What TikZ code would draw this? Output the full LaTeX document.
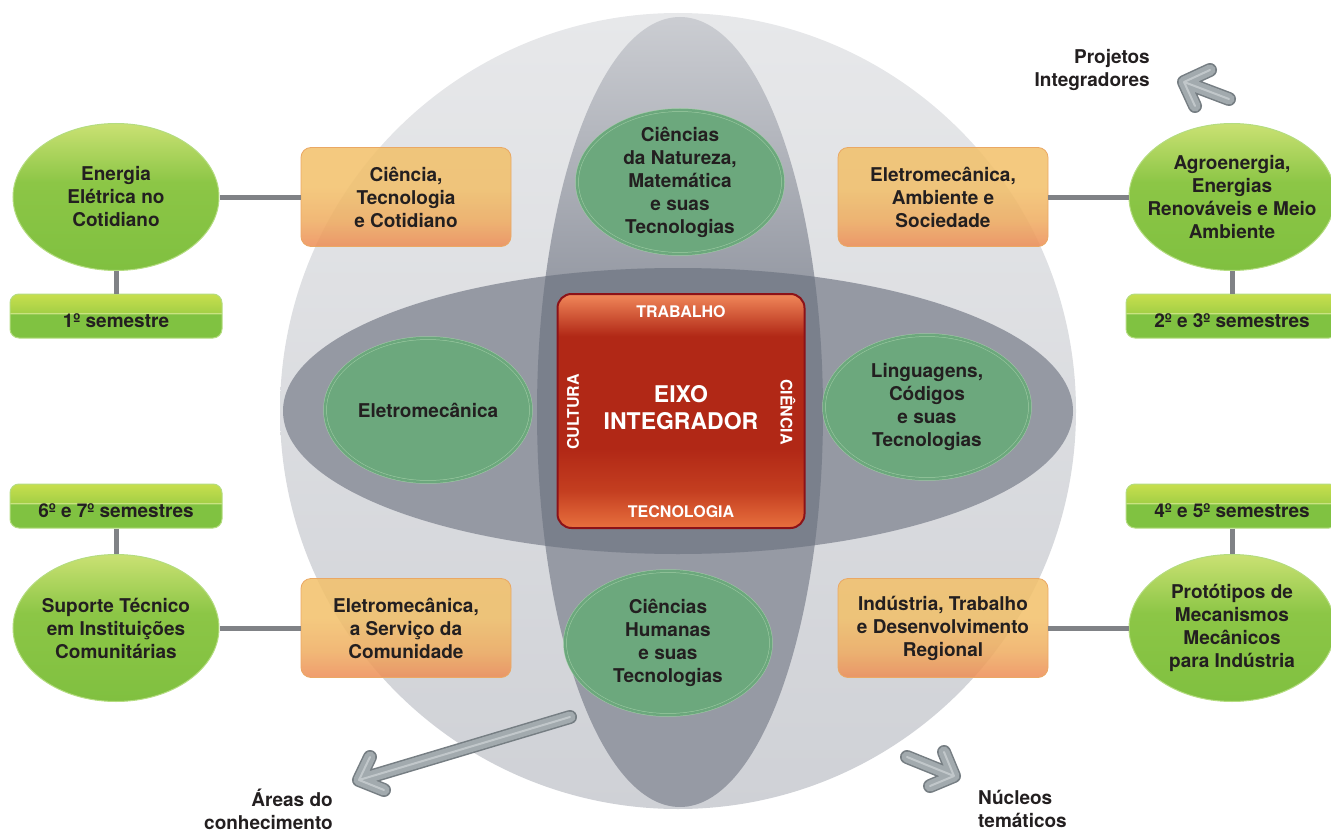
\documentclass[tikz,border=0pt]{standalone}
\usepackage{fontspec}
\setmainfont{TeX Gyre Heros}
\usetikzlibrary{shapes.geometric}

\definecolor{ink}{RGB}{35,31,32}
\definecolor{sphereTop}{RGB}{231,232,234}
\definecolor{sphereBot}{RGB}{207,209,214}
\definecolor{bandV}{RGB}{150,154,164}
\definecolor{bandVtop}{RGB}{203,205,210}
\definecolor{bandH}{RGB}{149,153,163}
\definecolor{bandX}{RGB}{122,128,140}
\definecolor{leafTop}{RGB}{202,225,115}
\definecolor{leafMid}{RGB}{140,198,70}
\definecolor{leafBot}{RGB}{128,192,64}
\definecolor{leafLine}{RGB}{180,220,128}
\definecolor{areaFill}{RGB}{108,168,125}
\definecolor{areaLine}{RGB}{160,205,165}
\definecolor{coreTop}{RGB}{241,136,90}
\definecolor{coreRed}{RGB}{177,40,22}
\definecolor{coreMid}{RGB}{196,62,32}
\definecolor{coreBot}{RGB}{232,112,62}
\definecolor{coreLine}{RGB}{140,18,24}
\definecolor{themeTop}{RGB}{242,192,106}
\definecolor{themeMid}{RGB}{239,172,96}
\definecolor{themeBot}{RGB}{237,140,86}
\definecolor{themeLine}{RGB}{234,168,100}
\definecolor{link}{RGB}{128,130,134}
\definecolor{barY}{RGB}{200,223,78}
\definecolor{barY2}{RGB}{165,208,70}
\definecolor{barG}{RGB}{128,194,65}
\definecolor{barHi}{RGB}{214,234,150}
\definecolor{arrowEdge}{RGB}{118,126,131}
\definecolor{arrowBody}{RGB}{162,170,174}
\definecolor{arrowHi}{RGB}{214,219,221}

% vertical shadings (0bp = bottom, 25..75bp span the filled shape)
\pgfdeclareverticalshading{coreshade}{100bp}{color(0bp)=(coreBot); color(25bp)=(coreBot);
  color(33bp)=(coreMid); color(42bp)=(coreRed); color(66bp)=(coreRed); color(75bp)=(coreTop); color(100bp)=(coreTop)}
\pgfdeclareverticalshading{barshade}{100bp}{color(0bp)=(barG); color(25bp)=(barG);
  color(52bp)=(barG); color(53bp)=(barHi); color(54.5bp)=(barY2); color(75bp)=(barY); color(100bp)=(barY)}
\pgfdeclareverticalshading{leafshade}{100bp}{color(0bp)=(leafBot); color(25bp)=(leafBot);
  color(55bp)=(leafMid); color(75bp)=(leafTop); color(100bp)=(leafTop)}
\pgfdeclareverticalshading{themeshade}{100bp}{color(0bp)=(themeBot); color(25bp)=(themeBot);
  color(38bp)=(themeMid); color(55bp)=(themeTop); color(75bp)=(themeTop); color(100bp)=(themeTop)}
\pgfdeclareverticalshading{bandshade}{100bp}{color(0bp)=(bandV); color(25bp)=(bandV);
  color(58bp)=(bandV); color(75bp)=(bandVtop); color(100bp)=(bandVtop)}

\begin{document}
\begin{tikzpicture}[x=1pt,y=-1pt,
  every node/.style={text=ink, font=\fontsize{19}{23}\selectfont\bfseries, align=center, inner sep=0pt},
  leaf/.style={ellipse, minimum width=206pt, minimum height=147pt, inner sep=-22pt,
    shade, shading=leafshade, draw=leafLine, line width=1pt},
  area/.style={ellipse, minimum width=206pt, minimum height=144pt, inner sep=-22pt,
    fill=areaFill, draw=areaLine, line width=0.5pt, double=areaFill, double distance=2.5pt},
  semester/.style={rectangle, rounded corners=9pt, minimum width=212pt, minimum height=44pt,
    text height=22pt, text depth=0pt,
    shade, shading=barshade, draw=leafLine, line width=1pt},
  theme/.style={rectangle, rounded corners=10pt, minimum width=210pt, minimum height=99pt,
    shade, shading=themeshade, fill opacity=0.86, text opacity=1, draw=themeLine, line width=0.8pt},
  core/.style={rectangle, rounded corners=14pt, minimum width=247pt, minimum height=234pt,
    shade, shading=coreshade, draw=coreLine, line width=2pt},
  corelbl/.style={text=white, font=\fontsize{16}{19}\selectfont\bfseries},
  link/.style={draw=link, line width=5pt},
  bigarrow/.style={draw=arrowEdge, line width=14pt, line cap=round, line join=round,
    postaction={draw=arrowBody, line width=11pt, line cap=round, line join=round},
    postaction={draw=arrowHi, line width=2pt, line cap=round, line join=round, draw opacity=0.6}},
  caption/.style={font=\fontsize{19}{23}\selectfont\bfseries}
]
\useasboundingbox (0,0) rectangle (1331,832);
\clip (0,0) rectangle (1331,832);

% sphere with the two crossing bands
\shade[top color=sphereTop, bottom color=sphereBot] (678,411) circle [radius=398];
\shade[shading=bandshade] (680,412) ellipse [x radius=143, y radius=395];
\fill[bandH] (678,411) ellipse [x radius=395, y radius=143];
\begin{scope}
  \clip (680,412) ellipse [x radius=143, y radius=395];
  \fill[bandX] (678,411) ellipse [x radius=395, y radius=143];
\end{scope}

% arrows for the three dimensions
\coordinate (pjTip) at (1184,82);
\coordinate (pjTail) at (1229,99);
\coordinate (pjA) at (1210,70);
\coordinate (pjB) at (1195,106);
\coordinate (acTip) at (359,780);
\coordinate (acTail) at (570,717);
\coordinate (acA) at (370,757);
\coordinate (acB) at (384,790);
\coordinate (ntTip) at (954,776);
\coordinate (ntTail) at (907,757);
\coordinate (ntA) at (944,752);
\coordinate (ntB) at (930,786);
\draw[bigarrow] (pjTail) -- (pjTip) (pjA) -- (pjTip) -- (pjB);
\draw[bigarrow] (acTail) -- (acTip) (acA) -- (acTip) -- (acB);
\draw[bigarrow] (ntTail) -- (ntTip) (ntA) -- (ntTip) -- (ntB);

\node[caption, anchor=east, align=right] (pjLbl) at (1150,70) {Projetos\\Integradores};
\node[caption, anchor=east, align=right] (acLbl) at (333,809) {Áreas do\\conhecimento};
\node[caption, anchor=west, align=left] (ntLbl) at (978,809) {Núcleos\\temáticos};

% thematic projects (outer leaves) and semesters
\node[leaf] (e1) at (116,197) {Energia\\Elétrica no\\Cotidiano};
\node[leaf] (e2) at (1232,197) {Agroenergia,\\Energias\\Renováveis e Meio\\Ambiente};
\node[leaf] (e3) at (116,628) {Suporte Técnico\\em Instituições\\Comunitárias};
\node[leaf] (e4) at (1232,628) {Protótipos de\\Mecanismos\\Mecânicos\\para Indústria};

\node[semester] (s1) at (116,316) {1º semestre};
\node[semester] (s2) at (1232,316) {2º e 3º semestres};
\node[semester] (s3) at (116,506) {6º e 7º semestres};
\node[semester] (s4) at (1232,506) {4º e 5º semestres};

% thematic nuclei
\node[theme] (b1) at (406,197) {Ciência,\\Tecnologia\\e Cotidiano};
\node[theme] (b2) at (943,197) {Eletromecânica,\\Ambiente e\\Sociedade};
\node[theme] (b3) at (406,628) {Eletromecânica,\\a Serviço da\\Comunidade};
\node[theme] (b4) at (943,628) {Indústria, Trabalho\\e Desenvolvimento\\Regional};

% connectors
\draw[link] (e1.east) -- (b1.west);
\draw[link] (e1.south) -- (s1.north);
\draw[link] (b2.east) -- (e2.west);
\draw[link] (e2.south) -- (s2.north);
\draw[link] (s3.south) -- (e3.north);
\draw[link] (e3.east) -- (b3.west);
\draw[link] (s4.south) -- (e4.north);
\draw[link] (b4.east) -- (e4.west);

% knowledge areas
\node[area] (a1) at (680,182) {Ciências\\da Natureza,\\Matemática\\e suas\\Tecnologias};
\node[area] (a2) at (428,410) {Eletromecânica};
\node[area] (a3) at (927,407) {Linguagens,\\Códigos\\e suas\\Tecnologias};
\node[area] (a4) at (668,643) {Ciências\\Humanas\\e suas\\Tecnologias};

% integrating axis
\node[core] (core) at (681,411) {};
\node[text=white, font=\fontsize{23}{27}\selectfont\bfseries] (eixo) at (681,408) {EIXO\\INTEGRADOR};
\node[corelbl] (trab) at (681,312) {TRABALHO};
\node[corelbl] (tecn) at (681,512) {TECNOLOGIA};
\node[corelbl, rotate=90] (cult) at (573,412) {CULTURA};
\node[corelbl, rotate=-90] (cien) at (788,412) {CIÊNCIA};
\end{tikzpicture}
\end{document}
